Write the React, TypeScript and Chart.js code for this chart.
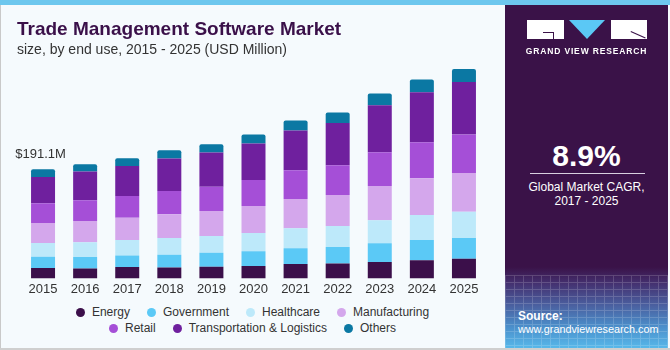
import React, { useEffect, useRef } from "react";
import { Chart, registerables } from "chart.js";

Chart.register(...registerables);

// ---------- data ----------
const years = ["2015", "2016", "2017", "2018", "2019", "2020", "2021", "2022", "2023", "2024", "2025"];
const energy = [18.0, 17.5, 19.8, 19.3, 20.5, 21.6, 25.1, 26.3, 28.6, 31.6, 34.5];
const government = [19.8, 19.8, 20.5, 22.3, 24.5, 25.8, 27.5, 28.6, 32.8, 35.6, 36.1];
const healthcare = [24.0, 25.8, 26.8, 29.3, 29.3, 32.1, 35.1, 36.8, 40.3, 43.8, 46.3];
const manufacturing = [35.1, 37.3, 39.1, 41.5, 43.8, 47.3, 51.4, 54.3, 60.1, 64.3, 67.7];
const retail = [34.5, 36.3, 38.0, 40.8, 42.6, 45.6, 50.3, 52.1, 59.1, 63.1, 67.3];
const transportation = [46.3, 50.3, 52.6, 56.6, 59.6, 63.8, 69.6, 74.2, 82.4, 87.7, 92.2];
const others = [13.4, 12.8, 13.5, 14.6, 14.6, 15.8, 17.5, 18.2, 20.5, 22.3, 22.8];

const seriesNames = [
  "Energy",
  "Government",
  "Healthcare",
  "Manufacturing",
  "Retail",
  "Transportation & Logistics",
  "Others",
];
const seriesValues = [energy, government, healthcare, manufacturing, retail, transportation, others];
const seriesColors = ["#3b0f4a", "#5bc9f6", "#bde9fa", "#d4a7ec", "#a54fd7", "#6f209e", "#0b78a3"];

const firstBarLabel = "$191.1M";
const cagrValue = "8.9%";
const cagrText1 = "Global Market CAGR,";
const cagrText2 = "2017 - 2025";

const FONT = '"Liberation Sans", Arial, sans-serif';

const topLabelPlugin = {
  id: "topLabel",
  afterDatasetsDraw(chart: any) {
    const meta = chart.getDatasetMeta(chart.data.datasets.length - 1);
    const el = meta.data[0];
    if (!el) return;
    const ctx = chart.ctx;
    ctx.save();
    ctx.font = `13px ${FONT}`;
    ctx.fillStyle = "#333333";
    ctx.textAlign = "center";
    ctx.textBaseline = "alphabetic";
    ctx.fillText(firstBarLabel, el.x - 2.5, el.y - 11);
    ctx.restore();
  },
};

function ChartCanvas() {
  const ref = useRef<HTMLCanvasElement | null>(null);
  useEffect(() => {
    if (!ref.current) return;
    const chart = new Chart(ref.current, {
      type: "bar",
      data: {
        labels: years,
        datasets: seriesNames.map((name, i) => ({
          label: name,
          data: seriesValues[i],
          backgroundColor: seriesColors[i],
          borderWidth: 0,
          borderRadius: i === seriesNames.length - 1 ? { topLeft: 2, topRight: 2, bottomLeft: 0, bottomRight: 0 } : 0,
          borderSkipped: false,
          barPercentage: 0.57,
          categoryPercentage: 1,
        })),
      },
      options: {
        animation: false,
        responsive: false,
        devicePixelRatio: 1,
        layout: { padding: { left: 22, right: 20, top: 50, bottom: 0 } },
        plugins: {
          legend: { display: false },
          tooltip: { enabled: false },
          title: { display: false },
        },
        scales: {
          x: {
            stacked: true,
            grid: { display: false, drawTicks: false },
            border: { display: false },
            ticks: { color: "#333333", font: { family: FONT, size: 13 }, padding: 3 },
          },
          y: {
            stacked: true,
            display: false,
            min: 0,
            max: 400,
          },
        },
      },
      plugins: [topLabelPlugin],
    });
    return () => chart.destroy();
  }, []);
  return (
    <canvas
      ref={ref}
      width={505}
      height={300}
      style={{ position: "absolute", left: 0, top: 0, width: 505, height: 300 }}
    />
  );
}

function LegendItem({ name, color }: { name: string; color: string }) {
  return (
    <div style={{ display: "flex", alignItems: "center", margin: "0 8.5px" }}>
      <span
        style={{
          display: "inline-block",
          width: 9,
          height: 9,
          borderRadius: "50%",
          background: color,
          marginRight: 7,
        }}
      />
      <span style={{ fontSize: 12, lineHeight: "12px", color: "#333333", fontFamily: FONT, whiteSpace: "nowrap" }}>
        {name}
      </span>
    </div>
  );
}

export default function App() {
  const row1 = seriesNames.slice(0, 4);
  const row2 = seriesNames.slice(4);
  return (
    <div
      style={{
        position: "absolute",
        left: 0,
        top: 0,
        width: 670,
        height: 350,
        background: "#f5fafd",
        overflow: "hidden",
        fontFamily: FONT,
      }}
    >
      {/* borders */}
      <div style={{ position: "absolute", left: 0, top: 0, width: 1, height: 350, background: "#c9c9c9" }} />
      <div style={{ position: "absolute", left: 0, top: 348, width: 670, height: 2, background: "#cfcfcf" }} />
      <div style={{ position: "absolute", left: 0, top: 0, width: 670, height: 5, background: "#6dc7ee" }} />

      <ChartCanvas />

      {/* title */}
      <div
        style={{
          position: "absolute",
          left: 17,
          top: 19,
          fontSize: 19,
          lineHeight: "19px",
          fontWeight: 700,
          color: "#3a1049",
          whiteSpace: "nowrap",
        }}
      >
        Trade Management Software Market
      </div>
      <div
        style={{
          position: "absolute",
          left: 17,
          top: 41.5,
          fontSize: 14,
          lineHeight: "14px",
          color: "#333333",
          whiteSpace: "nowrap",
        }}
      >
        size, by end use, 2015 - 2025 (USD Million)
      </div>

      {/* legend */}
      <div style={{ position: "absolute", left: 0, top: 306, width: 505, display: "flex", justifyContent: "center" }}>
        {row1.map((n) => (
          <LegendItem key={n} name={n} color={seriesColors[seriesNames.indexOf(n)]} />
        ))}
      </div>
      <div style={{ position: "absolute", left: 0, top: 322, width: 505, display: "flex", justifyContent: "center" }}>
        {row2.map((n) => (
          <LegendItem key={n} name={n} color={seriesColors[seriesNames.indexOf(n)]} />
        ))}
      </div>

      {/* right panel */}
      <div
        style={{
          position: "absolute",
          left: 505,
          top: 5,
          width: 163,
          height: 343,
          background:
            "linear-gradient(180deg, #3a1248 0px, #3a1248 262px, #44306f 278px, #4a5f9f 300px, #4b8fcb 322px, #57b8ea 343px)",
          overflow: "hidden",
        }}
      >
        {/* grid texture */}
        <div
          style={{
            position: "absolute",
            left: 0,
            top: 270,
            width: 163,
            height: 73,
            opacity: 0.18,
            background:
              "repeating-linear-gradient(90deg, rgba(255,255,255,0.9) 0px, rgba(255,255,255,0.9) 1px, transparent 1px, transparent 9px), repeating-linear-gradient(180deg, rgba(255,255,255,0.9) 0px, rgba(255,255,255,0.9) 1px, transparent 1px, transparent 7px)",
          }}
        />
        {/* logo */}
        <div style={{ position: "absolute", left: 22, top: 15, width: 37, height: 19, background: "#ffffff" }}>
          <div style={{ position: "absolute", left: 16, top: 12, width: 10, height: 1, background: "#3a1248" }} />
          <div style={{ position: "absolute", left: 26, top: 12, width: 1, height: 7, background: "#3a1248" }} />
        </div>
        <div
          style={{
            position: "absolute",
            left: 64,
            top: 15,
            width: 0,
            height: 0,
            borderLeft: "18.5px solid transparent",
            borderRight: "18.5px solid transparent",
            borderTop: "19px solid #5bc8f5",
          }}
        />
        <div style={{ position: "absolute", left: 106, top: 15, width: 36, height: 19, background: "#ffffff" }}>
          <div
            style={{
              position: "absolute",
              left: 20,
              top: 11,
              width: 16,
              height: 1,
              background: "#3a1248",
              transform: "rotate(24deg)",
              transformOrigin: "0 0",
            }}
          />
        </div>
        <div
          style={{
            position: "absolute",
            left: 0,
            top: 41.5,
            width: 163,
            textAlign: "center",
            fontSize: 8.5,
            lineHeight: "8.5px",
            fontWeight: 700,
            letterSpacing: 0.85,
            color: "#ffffff",
            whiteSpace: "nowrap",
          }}
        >
          GRAND VIEW RESEARCH
        </div>

        {/* CAGR */}
        <div
          style={{
            position: "absolute",
            left: 0,
            top: 135.6,
            width: 163,
            textAlign: "center",
            fontSize: 30,
            lineHeight: "30px",
            fontWeight: 700,
            color: "#ffffff",
          }}
        >
          {cagrValue}
        </div>
        <div style={{ position: "absolute", left: 25, top: 168, width: 115, height: 1, background: "#d8d0e0" }} />
        <div
          style={{
            position: "absolute",
            left: 0,
            top: 175.5,
            width: 163,
            textAlign: "center",
            fontSize: 12,
            lineHeight: "12px",
            color: "#ffffff",
            whiteSpace: "nowrap",
          }}
        >
          {cagrText1}
        </div>
        <div
          style={{
            position: "absolute",
            left: 0,
            top: 190,
            width: 163,
            textAlign: "center",
            fontSize: 12,
            lineHeight: "12px",
            color: "#ffffff",
            whiteSpace: "nowrap",
          }}
        >
          {cagrText2}
        </div>

        {/* source */}
        <div
          style={{
            position: "absolute",
            left: 13,
            top: 304.8,
            fontSize: 12,
            lineHeight: "12px",
            fontWeight: 700,
            color: "#ffffff",
          }}
        >
          Source:
        </div>
        <div
          style={{
            position: "absolute",
            left: 13,
            top: 319,
            fontSize: 10.8,
            lineHeight: "11px",
            color: "#ffffff",
            whiteSpace: "nowrap",
          }}
        >
          www.grandviewresearch.com
        </div>
      </div>
    </div>
  );
}
